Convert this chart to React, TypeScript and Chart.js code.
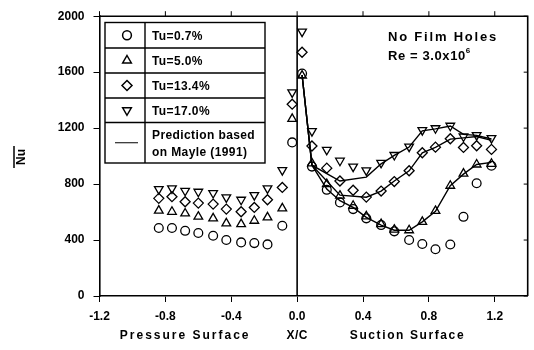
import React, { useEffect, useRef } from "react";
import { Chart, registerables } from "chart.js";

Chart.register(...registerables);

const FONT = "'Liberation Sans', Arial, Helvetica, sans-serif";

// Chordwise stations (X/C): pressure surface is negative, suction surface positive
const PS_X = [-0.84, -0.76, -0.68, -0.6, -0.51, -0.43, -0.34, -0.26, -0.18, -0.09, -0.03];
const SS_X = [0.03, 0.09, 0.18, 0.26, 0.34, 0.42, 0.51, 0.59, 0.68, 0.76, 0.84, 0.93, 1.01, 1.09, 1.18];

// Measured Nusselt numbers, Tu = 0.7 %
const TU07_PS = [486, 486, 466, 450, 431, 400, 383, 378, 369, 502, 1098];
const TU07_SS = [1590, 925, 759, 669, 621, 555, 507, 462, 400, 372, 334, 368, 566, 806, 931];

// Tu = 5.0 %
const TU50_PS = [610, 602, 590, 567, 555, 519, 514, 538, 562, 626, 1266];
const TU50_SS = [1575, 948, 800, 717, 645, 569, 514, 474, 470, 530, 608, 788, 875, 940, 945];

// Tu = 13.4 %
const TU134_PS = [698, 710, 674, 664, 657, 621, 602, 633, 688, 776, 1371];
const TU134_SS = [1742, 1072, 914, 822, 756, 707, 750, 818, 895, 1024, 1064, 1124, 1062, 1074, 1048];

// Tu = 17.0 %
const TU170_PS = [764, 769, 752, 745, 736, 705, 688, 721, 769, 900, 1455];
const TU170_SS = [1890, 1178, 1045, 967, 925, 898, 952, 1008, 1068, 1186, 1199, 1217, 1140, 1150, 1128];

// Predicted suction-surface distributions (Mayle, 1991)
const PRED_TU50_X = [0.03, 0.09, 0.18, 0.26, 0.34, 0.42, 0.51, 0.59, 0.68, 0.76, 0.84, 0.93, 1.01, 1.09, 1.18];
const PRED_TU50 = [1580, 935, 764, 681, 633, 562, 507, 470, 470, 530, 605, 788, 871, 940, 955];
const PRED_TU134_X = [0.03, 0.09, 0.26, 0.42, 0.51, 0.59, 0.68, 0.76, 0.84, 0.93, 1.01, 1.09, 1.18];
const PRED_TU134 = [1580, 935, 721, 706, 750, 822, 895, 1024, 1062, 1121, 1130, 1140, 1112];
const PRED_TU170_X = [0.03, 0.09, 0.26, 0.42, 0.51, 0.59, 0.68, 0.76, 0.84, 0.93, 1.01, 1.09, 1.18];
const PRED_TU170 = [1580, 935, 822, 850, 945, 1005, 1065, 1180, 1195, 1215, 1155, 1148, 1122];

const X_TICKS = [-1.2, -0.8, -0.4, 0, 0.4, 0.8, 1.2];
const Y_TICKS = [0, 400, 800, 1200, 1600, 2000];

const LEGEND_LABELS = ["Tu=0.7%", "Tu=5.0%", "Tu=13.4%", "Tu=17.0%"];
const PRED_LABEL = ["Prediction based", "on Mayle (1991)"];
const NOTE_LINE1 = "No Film Holes";
const NOTE_LINE2 = "Re = 3.0x10";
const NOTE_EXP = "6";
const Y_TITLE = "Nu";
const X_TITLE_LEFT = "Pressure Surface";
const X_TITLE_MID = "X/C";
const X_TITLE_RIGHT = "Suction Surface";

const toXY = (xs: number[], ys: number[]) => xs.map((x, i) => ({ x, y: ys[i] }));

type Marker = "circle" | "triangle" | "diamond" | "invTriangle";

function drawMarker(ctx: CanvasRenderingContext2D, kind: Marker, cx: number, cy: number) {
  ctx.beginPath();
  if (kind === "circle") {
    ctx.arc(cx, cy, 4.4, 0, Math.PI * 2);
  } else if (kind === "diamond") {
    const r = 5;
    ctx.moveTo(cx, cy - r);
    ctx.lineTo(cx + r, cy);
    ctx.lineTo(cx, cy + r);
    ctx.lineTo(cx - r, cy);
    ctx.closePath();
  } else {
    const r = 5;
    const s = kind === "triangle" ? 1 : -1;
    ctx.moveTo(cx, cy - s * r);
    ctx.lineTo(cx + r * 0.866, cy + s * r * 0.5);
    ctx.lineTo(cx - r * 0.866, cy + s * r * 0.5);
    ctx.closePath();
  }
  ctx.stroke();
}

const decorPlugin = {
  id: "decor",
  beforeDatasetsDraw(chart: any) {
    const { ctx, chartArea: a, scales } = chart;
    const x = scales.x;
    const y = scales.y;
    ctx.save();
    ctx.strokeStyle = "#000";
    ctx.lineWidth = 1.6;
    // leading-edge line at X/C = 0
    const x0 = x.getPixelForValue(0);
    ctx.beginPath();
    ctx.moveTo(x0, a.top);
    ctx.lineTo(x0, a.bottom);
    ctx.stroke();
    // top and right frame
    ctx.beginPath();
    ctx.moveTo(a.left, a.top);
    ctx.lineTo(a.right, a.top);
    ctx.lineTo(a.right, a.bottom);
    ctx.stroke();
    ctx.lineWidth = 1;
    ctx.beginPath();
    X_TICKS.forEach((v) => {
      const px = x.getPixelForValue(v);
      ctx.moveTo(px, a.top);
      ctx.lineTo(px, a.top - 5);
    });
    Y_TICKS.forEach((v) => {
      const py = y.getPixelForValue(v);
      ctx.moveTo(a.right, py);
      ctx.lineTo(a.right - 4, py);
    });
    ctx.stroke();
    ctx.restore();
  },
  afterDraw(chart: any) {
    const { ctx, scales } = chart;
    const x = scales.x;
    ctx.save();
    ctx.fillStyle = "#000";
    ctx.strokeStyle = "#000";

    // legend table
    const left = 105;
    const mid = 145;
    const right = 265;
    const rows = [22.5, 48, 73, 98, 122.5, 163];
    ctx.lineWidth = 1.4;
    ctx.strokeRect(left, rows[0], right - left, rows[rows.length - 1] - rows[0]);
    ctx.beginPath();
    ctx.moveTo(mid, rows[0]);
    ctx.lineTo(mid, rows[rows.length - 1]);
    for (let i = 1; i < rows.length - 1; i++) {
      ctx.moveTo(left, rows[i]);
      ctx.lineTo(right, rows[i]);
    }
    ctx.stroke();

    const markers: Marker[] = ["circle", "triangle", "diamond", "invTriangle"];
    ctx.font = `bold 12px ${FONT}`;
    (ctx as any).letterSpacing = "0.4px";
    ctx.textAlign = "left";
    ctx.textBaseline = "middle";
    LEGEND_LABELS.forEach((label, i) => {
      const cy = (rows[i] + rows[i + 1]) / 2;
      ctx.lineWidth = 1.5;
      drawMarker(ctx, markers[i], (left + mid) / 2 + 2, cy);
      ctx.fillText(label, 152, cy + 1.5);
    });
    const predCy = (rows[4] + rows[5]) / 2;
    ctx.lineWidth = 1;
    ctx.beginPath();
    ctx.moveTo(115, predCy);
    ctx.lineTo(138, predCy);
    ctx.stroke();
    ctx.fillText(PRED_LABEL[0], 152, predCy - 7.5);
    ctx.fillText(PRED_LABEL[1], 152, predCy + 10);

    // annotation
    ctx.font = `bold 13px ${FONT}`;
    (ctx as any).letterSpacing = "1.8px";
    ctx.textBaseline = "alphabetic";
    ctx.fillText(NOTE_LINE1, 388, 41);
    (ctx as any).letterSpacing = "0.6px";
    ctx.fillText(NOTE_LINE2, 388, 60);
    const w2 = ctx.measureText(NOTE_LINE2).width;
    ctx.font = `bold 8px ${FONT}`;
    ctx.fillText(NOTE_EXP, 388 + w2, 53);

    // x-axis titles
    ctx.font = `bold 12px ${FONT}`;
    ctx.textAlign = "center";
    (ctx as any).letterSpacing = "2px";
    ctx.fillText(X_TITLE_LEFT, x.getPixelForValue(-0.68), 339);
    (ctx as any).letterSpacing = "0.5px";
    ctx.fillText(X_TITLE_MID, x.getPixelForValue(0), 339);
    (ctx as any).letterSpacing = "1.6px";
    ctx.fillText(X_TITLE_RIGHT, x.getPixelForValue(0.67), 339);

    // y-axis title with overbar
    (ctx as any).letterSpacing = "0px";
    ctx.translate(22, 157);
    ctx.rotate(-Math.PI / 2);
    ctx.textBaseline = "middle";
    ctx.font = `bold 12px ${FONT}`;
    ctx.fillText(Y_TITLE, 0, 0);
    ctx.lineWidth = 1.5;
    ctx.beginPath();
    ctx.moveTo(-11, -8);
    ctx.lineTo(11, -8);
    ctx.stroke();
    ctx.restore();
  },
};

const markerSet = (label: string, ps: number[], ss: number[], style: string, rotation = 0, radius = 5) => ({
  label,
  data: [...toXY(PS_X, ps), ...toXY(SS_X, ss)],
  showLine: false,
  pointStyle: style,
  pointRotation: rotation,
  pointRadius: radius,
  pointBorderWidth: 1.3,
  pointBorderColor: "#000",
  pointBackgroundColor: "rgba(255,255,255,0)",
  borderColor: "#000",
  backgroundColor: "rgba(255,255,255,0)",
});

const predSet = (label: string, xs: number[], ys: number[]) => ({
  label,
  data: toXY(xs, ys),
  showLine: true,
  pointRadius: 0,
  borderColor: "#000",
  borderWidth: 1.4,
  tension: 0,
});

export default function App() {
  const canvasRef = useRef<HTMLCanvasElement | null>(null);

  useEffect(() => {
    if (!canvasRef.current) return;
    const chart = new Chart(canvasRef.current, {
      type: "scatter",
      data: {
        datasets: [
          predSet("Prediction Tu=5.0%", PRED_TU50_X, PRED_TU50),
          predSet("Prediction Tu=13.4%", PRED_TU134_X, PRED_TU134),
          predSet("Prediction Tu=17.0%", PRED_TU170_X, PRED_TU170),
          markerSet(LEGEND_LABELS[0], TU07_PS, TU07_SS, "circle", 0, 4.4),
          markerSet(LEGEND_LABELS[1], TU50_PS, TU50_SS, "triangle", 0, 5),
          markerSet(LEGEND_LABELS[2], TU134_PS, TU134_SS, "rectRot", 0, 5),
          markerSet(LEGEND_LABELS[3], TU170_PS, TU170_SS, "triangle", 180, 5),
        ] as any,
      },
      options: {
        animation: false,
        responsive: false,
        devicePixelRatio: 1,
        layout: { padding: { top: 16, right: 4, left: 0, bottom: 0 } },
        plugins: { legend: { display: false }, tooltip: { enabled: false } },
        scales: {
          x: {
            type: "linear",
            min: -1.2,
            max: 1.4,
            afterBuildTicks: (scale: any) => {
              scale.ticks = X_TICKS.map((value) => ({ value }));
            },
            afterFit: (scale: any) => {
              scale.height = 54;
            },
            ticks: {
              autoSkip: false,
              maxRotation: 0,
              padding: 7,
              color: "#000",
              font: { family: FONT, weight: "bold", size: 12 },
              callback: (v: any) => Number(v).toFixed(1),
            },
            grid: { display: true, drawOnChartArea: false, drawTicks: true, tickLength: 6, color: "#000", lineWidth: 1 },
            border: { display: true, color: "#000", width: 1.6 },
          },
          y: {
            type: "linear",
            min: 0,
            max: 2000,
            afterBuildTicks: (scale: any) => {
              scale.ticks = Y_TICKS.map((value) => ({ value }));
            },
            afterFit: (scale: any) => {
              scale.width = 99.5;
            },
            ticks: {
              padding: 9,
              color: "#000",
              font: { family: FONT, weight: "bold", size: 12 },
              callback: (v: any) => String(v),
            },
            grid: { display: true, drawOnChartArea: false, drawTicks: true, tickLength: 6, color: "#000", lineWidth: 1 },
            border: { display: true, color: "#000", width: 1.6 },
          },
        },
      } as any,
      plugins: [decorPlugin],
    });
    return () => chart.destroy();
  }, []);

  return (
    <div style={{ position: "absolute", left: 0, top: 0, width: 534, height: 350, background: "#fff" }}>
      <canvas ref={canvasRef} width={534} height={350} style={{ display: "block" }} />
    </div>
  );
}
